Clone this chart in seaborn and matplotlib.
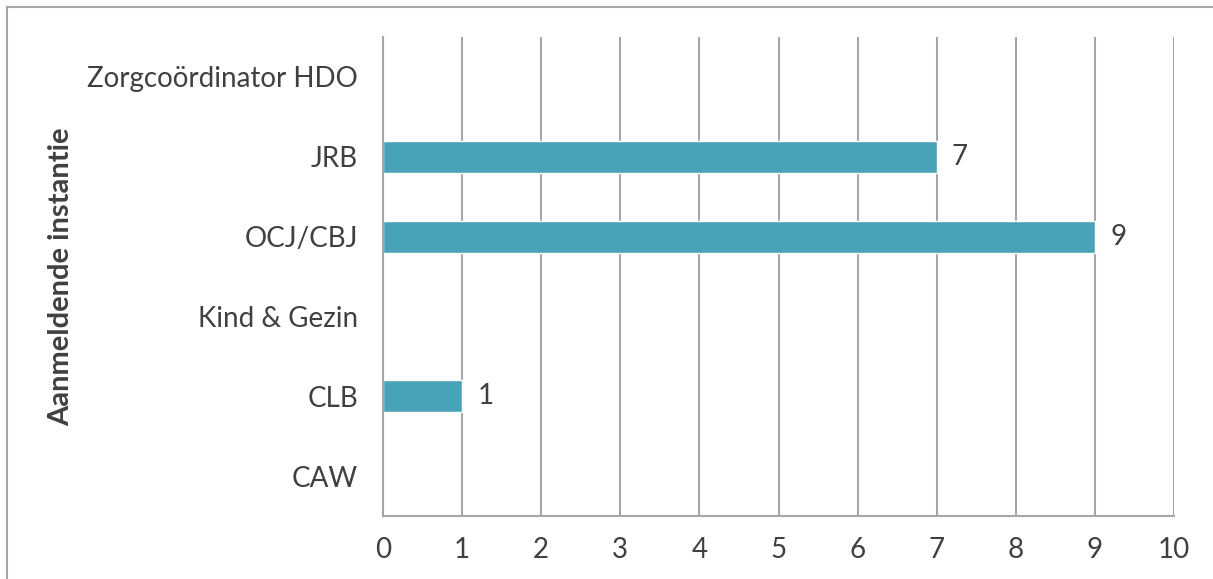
import matplotlib.pyplot as plt
import numpy as np
import pandas as pd
import seaborn as sns
from matplotlib.patches import Rectangle

# Data (top to bottom as in the chart)
categories = ["Zorgcoördinator HDO", "JRB", "OCJ/CBJ", "Kind & Gezin", "CLB", "CAW"]
values = [0, 7, 9, 0, 1, 0]
x_ticks = list(range(0, 11))

bar_color = "#48A3B8"
grid_color = "#A6A6A6"
text_color = "#404040"

sns.set_style("white")
plt.rcParams["font.family"] = ["Lato", "DejaVu Sans"]

df = pd.DataFrame({"instantie": categories, "aantal": values})

fig = plt.figure(figsize=(12.13, 5.79), dpi=100)
ax = fig.add_axes([383 / 1213, 1 - 516 / 579, (1174 - 383) / 1213, (516 - 37) / 579])

sns.barplot(data=df, x="aantal", y="instantie", orient="h", color=bar_color,
            width=0.4, saturation=1, ax=ax)

# value labels, skip zeros
labels = [str(v) if v else "" for v in values]
ax.bar_label(ax.containers[0], labels=labels, padding=11, fontsize=20, color=text_color)

ax.set_xlim(0, 10)
ax.set_xticks(x_ticks)
ax.set_ylim(5.5, -0.5)
ax.xaxis.grid(True, color=grid_color, linewidth=1.5)
ax.set_axisbelow(True)

for s in ["top", "right"]:
    ax.spines[s].set_visible(False)
for s in ["left", "bottom"]:
    ax.spines[s].set_color(grid_color)
    ax.spines[s].set_linewidth(1.5)

# y ticks: labels at centers, tick marks at band boundaries
ax.set_yticks(np.arange(len(categories) + 1) - 0.5, minor=True)
ax.tick_params(axis="y", which="major", length=0, pad=18, labelsize=20, labelcolor=text_color)
ax.tick_params(axis="y", which="minor", length=6, width=1.5, color=grid_color)
ax.tick_params(axis="x", which="major", length=6, width=1.5, color=grid_color,
               labelsize=20, labelcolor=text_color, pad=9)

ax.set_xlabel("")
ax.set_ylabel("Aanmeldende instantie", fontsize=21, fontweight="bold", color=text_color)
ax.yaxis.set_label_coords(-0.39, 0.5)

# outer frame (cut off at right and bottom like the reference)
fig.patches.append(Rectangle((7 / 1213, -0.5), 2, 1.5 - 7 / 579, transform=fig.transFigure,
                             fill=False, edgecolor=grid_color, linewidth=1.5))

fig.savefig("out.png", dpi=100)
